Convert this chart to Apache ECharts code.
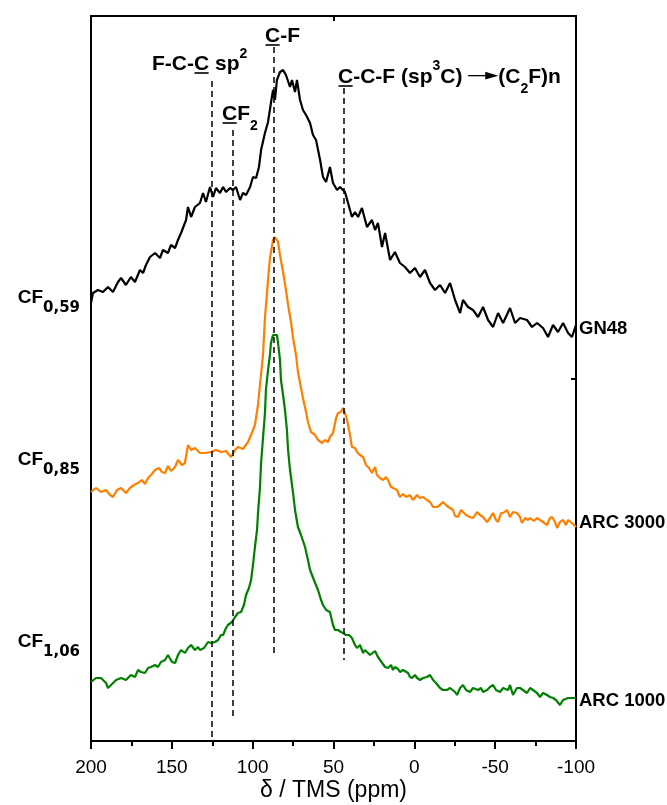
<!DOCTYPE html>
<html><head><meta charset="utf-8">
<script src="https://cdn.jsdelivr.net/npm/echarts@6/dist/echarts.min.js"></script>
<style>html,body{margin:0;padding:0;background:#fff}#c{width:667px;height:805px}</style>
</head><body><div id="c"></div>
<script>
const FONT = '"Liberation Sans", Arial, sans-serif';
const SUBFONT = '"DejaVu Sans", sans-serif';

// x axis ticks (ppm)
const xTickValues = [200, 150, 100, 50, 0, -50, -100];

// GN48 (black)
const blackPpm = [200.0,198.8,195.7,192.6,189.5,186.4,183.3,181.4,178.4,175.3,
172.8,169.7,167.8,166.0,163.5,160.4,157.3,155.5,152.4,150.5,
148.0,146.2,144.3,143.1,141.2,140.0,138.1,135.7,132.6,130.7,
128.9,126.4,124.5,122.7,120.2,118.3,116.5,114.0,112.2,110.3,
107.8,106.0,104.1,101.6,99.8,97.9,96.1,94.8,92.4,90.5,
88.7,87.4,86.2,85.0,83.1,81.2,79.4,76.9,75.7,73.8,
72.6,70.7,68.9,67.0,64.5,62.7,60.8,58.3,56.5,54.6,
52.2,50.3,47.8,46.0,42.9,41.0,38.6,36.7,34.8,32.4,
29.3,26.2,24.3,22.5,20.0,18.1,15.0,12.0,8.9,5.8,
2.7,-0.4,-3.5,-6.6,-9.7,-12.8,-15.9,-19.0,-22.1,-25.2,
-28.3,-30.1,-33.2,-36.3,-39.4,-42.5,-45.6,-48.7,-51.8,-54.9,
-59.2,-62.3,-65.4,-69.7,-72.8,-75.9,-79.6,-82.7,-85.8,-88.9,
-92.0,-95.1,-97.5,-100.0];
const blackVal = [438,448,451,449,454,449,459,463,456,464,
459,471,468,476,484,488,483,491,488,496,
493,501,508,506,521,534,524,534,538,548,
539,554,544,553,548,554,549,553,551,554,
541,548,546,554,564,563,574,591,608,619,
638,651,641,661,669,671,666,654,661,649,
661,641,631,626,618,606,601,581,564,559,
574,558,551,554,549,538,524,529,524,533,
514,521,511,518,494,508,481,489,478,474,
468,473,464,471,458,451,456,448,458,441,
428,441,434,431,424,434,421,414,428,418,
433,418,423,421,414,418,413,404,416,409,
418,408,404,416];

// ARC 3000 (orange)
const orangePpm = [200.0,196.9,193.8,190.7,188.2,186.4,183.9,181.4,178.4,175.9,
173.4,170.9,168.5,166.6,164.7,162.3,160.4,157.9,156.1,154.2,
152.4,150.5,148.0,146.2,143.7,141.9,140.0,138.1,135.7,132.6,
129.5,125.8,122.7,119.6,116.5,113.4,110.9,109.1,106.0,102.9,
101.0,98.6,96.7,95.5,93.6,92.4,90.5,89.3,87.4,86.2,
84.3,83.1,81.2,79.4,78.1,76.3,75.0,73.2,72.0,70.1,
68.9,67.0,65.8,63.9,61.4,59.6,57.1,55.3,53.4,52.2,
50.3,48.4,47.2,45.4,44.1,42.9,41.6,39.8,38.6,36.7,
35.5,33.6,31.7,29.9,28.0,26.2,24.3,23.1,21.2,19.4,
17.5,16.3,14.4,13.2,10.7,8.9,7.0,5.1,2.7,0.8,
-1.7,-3.5,-5.4,-7.8,-9.7,-11.6,-14.0,-15.9,-17.7,-20.2,
-22.1,-23.9,-25.2,-27.0,-28.9,-30.1,-32.0,-34.4,-36.3,-38.8,
-40.6,-42.5,-45.0,-46.8,-48.7,-50.5,-51.8,-53.6,-54.9,-57.3,
-59.2,-61.0,-63.5,-65.4,-66.6,-68.5,-70.3,-71.6,-74.0,-75.9,
-77.7,-79.6,-82.1,-83.9,-85.2,-87.0,-88.3,-90.1,-92.0,-93.8,
-95.1,-96.3,-98.2,-100.0];
const orangeVal = [249,253,249,251,246,244,251,253,248,253,
256,258,261,257,263,267,271,273,269,268,
275,270,274,281,276,278,296,291,293,288,
288,289,291,289,290,284,291,294,292,299,
306,316,336,356,386,423,461,483,501,504,
499,486,469,451,436,419,403,386,369,353,
343,329,319,309,306,301,298,301,299,304,
308,323,328,329,333,328,321,306,294,293,
289,286,284,276,273,268,274,266,263,261,
264,261,254,254,251,244,247,244,246,241,
246,243,244,241,239,234,234,236,239,235,
233,231,225,224,231,231,226,224,223,229,
226,224,219,223,228,221,219,228,228,231,
224,229,228,224,218,223,221,223,220,223,
221,219,216,223,224,219,213,219,221,216,
221,219,217,214];

// ARC 1000 (green)
const greenPpm = [200.0,196.9,193.8,190.7,189.5,187.6,184.5,181.4,178.4,175.3,
172.8,170.9,169.1,166.6,164.7,162.9,160.4,158.6,156.7,154.2,
152.4,149.9,148.0,146.2,144.3,141.9,140.0,138.1,135.7,133.8,
132.6,130.1,127.6,125.8,123.3,121.4,119.6,118.3,116.5,115.3,
112.8,110.9,109.1,107.2,105.4,104.1,102.3,101.0,99.8,98.6,
97.3,96.7,95.5,94.8,93.6,92.4,91.8,90.5,89.3,88.7,
87.4,86.2,85.0,84.3,83.1,82.5,81.2,80.0,78.8,78.1,
76.9,75.0,73.8,72.0,70.1,67.6,65.8,64.5,62.1,59.6,
57.7,56.5,54.6,52.2,50.3,49.1,47.2,45.4,44.1,42.3,
40.4,38.6,36.7,35.5,33.6,31.7,30.5,29.3,27.4,26.2,
24.3,22.5,21.2,20.0,18.1,16.3,14.4,13.2,12.0,10.1,
8.9,7.0,5.8,3.9,2.7,1.4,-0.4,-1.7,-3.5,-5.4,
-7.8,-9.7,-11.6,-13.4,-15.9,-17.7,-20.2,-22.1,-23.3,-25.2,
-26.4,-28.3,-30.1,-32.0,-34.4,-36.3,-37.5,-39.4,-41.2,-42.5,
-45.0,-46.8,-48.7,-50.5,-53.0,-54.9,-56.1,-58.0,-59.2,-61.0,
-63.5,-65.4,-67.2,-69.7,-71.6,-73.4,-75.9,-77.7,-79.6,-82.1,
-83.9,-85.8,-87.6,-90.1,-92.0,-93.2,-95.1,-97.5,-100.0];
const greenVal = [59,63,63,58,53,56,61,63,61,66,
64,71,69,68,73,74,76,74,79,81,
86,79,78,86,91,88,93,96,91,94,
91,93,99,98,99,101,106,106,113,116,
119,124,128,129,136,146,153,161,176,194,
211,228,253,278,303,328,351,371,386,398,
406,408,406,398,381,361,346,331,311,291,
271,248,231,214,206,194,181,171,161,151,
141,136,131,129,116,111,111,109,108,106,
106,103,96,93,96,88,91,92,86,88,
90,84,81,79,74,73,76,71,74,72,
69,71,73,68,64,63,66,63,61,63,
64,66,61,58,53,51,51,53,54,49,
46,53,56,51,49,53,54,51,53,49,
51,54,56,51,49,53,51,51,56,46,
53,53,51,48,53,51,48,44,48,46,
44,43,41,36,41,39,43,43,43];

// dashed assignment lines (ppm, top value, bottom value)
const annotPpm = [125.6, 112.6, 86.8, 43.5];
const annotTop = [660, 611, 694, 653];
const annotBottom = [0, 24, 86, 81];

// --- text layout helper (measures fragments so sub/superscripts & underlines line up)
const meas = document.createElement('canvas').getContext('2d');
function tw(t, size, fam) { meas.font = 'bold ' + size + 'px ' + fam; return meas.measureText(t).width; }
const MID = 0.29;
function label(x0, base, parts, align) {
  let w = 0;
  parts.forEach(p => { w += p.arrow ? p.arrow : tw(p[0], p[1], p[4] || FONT); });
  let x = align === 'right' ? x0 - w : x0;
  const els = [];
  const mainSize = parts[0][1];
  parts.forEach(p => {
    if (p.arrow) {
      const y = base - 0.35 * mainSize;
      els.push({type: 'line', silent: true, shape: {x1: x, y1: y, x2: x + p.arrow - 10, y2: y}, style: {stroke: '#000', lineWidth: 1.3}});
      els.push({type: 'polygon', silent: true, shape: {points: [[x + p.arrow - 13, y - 3.8], [x + p.arrow, y], [x + p.arrow - 13, y + 3.8]]}, style: {fill: '#000'}});
      x += p.arrow;
      return;
    }
    const t = p[0], s = p[1], dy = p[2] || 0, u = p[3], fam = p[4] || FONT;
    const wi = tw(t, s, fam);
    const b = base + dy;
    els.push({type: 'text', silent: true, x: x, y: b - MID * s,
      style: {text: t, font: 'bold ' + s + 'px ' + fam, fill: '#000', align: 'left', verticalAlign: 'middle'}});
    if (u) els.push({type: 'line', silent: true, shape: {x1: x + 0.5, y1: base + 3, x2: x + wi - 0.5, y2: base + 3}, style: {stroke: '#000', lineWidth: 1.6}});
    x += wi;
  });
  return els;
}

const gfx = [].concat(
  label(265, 42, [['C', 21, 0, true], ['-F', 21]]),
  label(152, 70, [['F-C-', 21], ['C', 21, 0, true], [' sp', 21], ['2', 14, -12]]),
  label(222, 120, [['C', 21, 0, true], ['F', 21], ['2', 14, 10]]),
  label(338, 83, [['C', 21, 0, true], ['-C-F (sp', 21], ['3', 14, -13], ['C) ', 21], {arrow: 30}, ['(C', 21], ['2', 14, 10], ['F)n', 21]]),
  label(80, 303, [['CF', 19], ['0,59', 15, 9, false, SUBFONT]], 'right'),
  label(80, 465, [['CF', 19], ['0,85', 15, 9, false, SUBFONT]], 'right'),
  label(80, 647, [['CF', 19], ['1,06', 15, 9, false, SUBFONT]], 'right'),
  label(579, 334.5, [['GN48', 18.5]]),
  label(579, 528.5, [['ARC 3000', 18.5]]),
  label(579, 706.5, [['ARC 1000', 18.5]])
);

const mk = (p, v) => p.map((x, i) => [x, v[i]]);
const frameLine = {show: true, onZero: false, lineStyle: {color: '#000', width: 2}};

const chart = echarts.init(document.getElementById('c'), null, {renderer: 'canvas'});
chart.setOption({
  animation: false,
  backgroundColor: '#fff',
  grid: {left: 91, right: 91, top: 16, bottom: 64, containLabel: false, outerBoundsMode: 'none'},
  xAxis: [
    {type: 'value', min: -100, max: 200, interval: 50, inverse: true, position: 'bottom',
     axisLine: frameLine,
     axisTick: {show: true, inside: false, length: 8, lineStyle: {color: '#000', width: 2}},
     minorTick: {show: true, splitNumber: 2, length: 5, lineStyle: {color: '#000', width: 2}},
     axisLabel: {show: true, margin: 17, color: '#000', fontSize: 19, fontFamily: FONT, showMinLabel: true, showMaxLabel: true,
       formatter: v => (xTickValues.indexOf(v) >= 0 ? String(v) : '')},
     splitLine: {show: false}, minorSplitLine: {show: false},
     name: 'δ / TMS (ppm)', nameLocation: 'middle', nameGap: 38, nameMoveOverlap: false,
     nameTextStyle: {color: '#000', fontSize: 23, fontFamily: FONT}},
    {type: 'value', min: -100, max: 200, interval: 150, inverse: true, position: 'top',
     axisLine: frameLine,
     axisTick: {show: true, inside: true, length: 5, lineStyle: {color: '#000', width: 2}},
     axisLabel: {show: false}, splitLine: {show: false}}
  ],
  yAxis: [
    {type: 'value', min: 0, max: 725, position: 'left', axisLine: frameLine,
     axisTick: {show: false}, axisLabel: {show: false}, splitLine: {show: false}},
    {type: 'value', min: 0, max: 725, interval: 362.5, position: 'right', axisLine: frameLine,
     axisTick: {show: true, inside: true, length: 5, lineStyle: {color: '#000', width: 2}},
     axisLabel: {show: false}, splitLine: {show: false}}
  ],
  series: [
    {type: 'line', name: 'GN48', data: mk(blackPpm, blackVal), showSymbol: false, symbol: 'none',
     lineStyle: {color: '#000000', width: 2.2}, itemStyle: {color: '#000000'}, z: 3,
     markLine: {silent: true, symbol: ['none', 'none'], label: {show: false},
       lineStyle: {color: '#000', width: 1.5, type: [6, 4]},
       emphasis: {disabled: true},
       data: annotPpm.map((p, i) => [{coord: [p, annotTop[i]]}, {coord: [p, annotBottom[i]]}])}},
    {type: 'line', name: 'ARC 3000', data: mk(orangePpm, orangeVal), showSymbol: false, symbol: 'none',
     lineStyle: {color: '#ff8000', width: 2.2}, itemStyle: {color: '#ff8000'}, z: 3},
    {type: 'line', name: 'ARC 1000', data: mk(greenPpm, greenVal), showSymbol: false, symbol: 'none',
     lineStyle: {color: '#008000', width: 2.2}, itemStyle: {color: '#008000'}, z: 3}
  ],
  graphic: {elements: gfx}
});
</script>
</body></html>
